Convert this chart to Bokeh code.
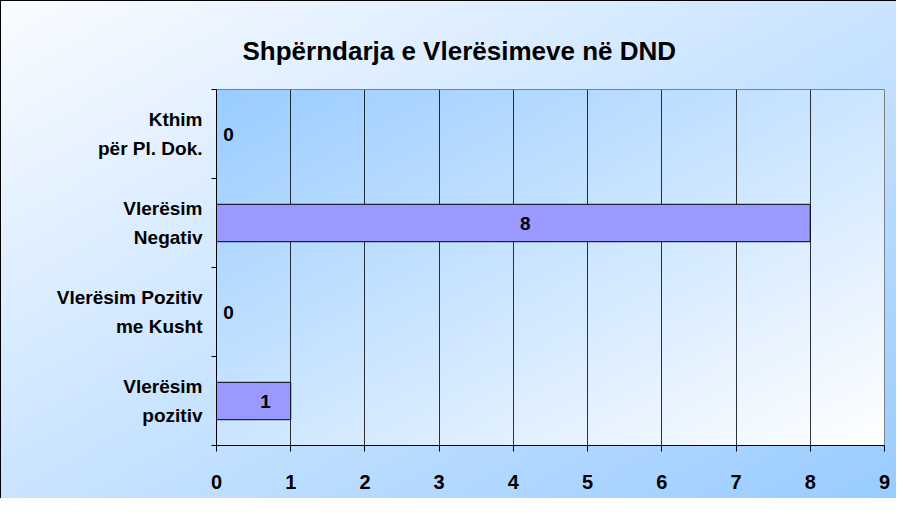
from bokeh.plotting import figure
from bokeh.models import Range1d, FixedTicker, ColumnDataSource, LabelSet
from bokeh.core.properties import value
from bokeh.embed import file_html
from bokeh.resources import INLINE

title_text = "Shpërndarja e Vlerësimeve në DND"
categories = ["Kthim\npër Pl. Dok.", "Vlerësim\nNegativ", "Vlerësim Pozitiv\nme Kusht", "Vlerësim\npozitiv"]
values = [0, 8, 0, 1]
x_ticks = [0, 1, 2, 3, 4, 5, 6, 7, 8, 9]

n = len(categories)
ypos = [n - i - 0.5 for i in range(n)]
bounds = list(range(n + 1))

W, H = 896, 498
FL, FT, FR, FB = 216, 89, 884, 445
FONT = "Liberation Sans"

p = figure(width=W, height=H, output_backend="svg", toolbar_location=None,
           title=title_text,
           x_range=Range1d(x_ticks[0], x_ticks[-1]), y_range=Range1d(0, n),
           min_border_left=FL, min_border_right=W - FR,
           min_border_top=FT, min_border_bottom=H - FB)
p.border_fill_color = None
p.background_fill_color = None
p.outline_line_color = "#808080"
p.outline_line_width = 1
p.styles = {
    "background": (f"linear-gradient(to bottom right, #99CCFF, #FFFFFF) {FL}px {FT}px / {FR-FL}px {FB-FT}px no-repeat, "
                   "linear-gradient(to bottom right, #FAFCFF, #99CCFF)"),
    "box-shadow": "inset 1px 1px 0 0 #000000",
}

# title
p.title.align = "left"
p.title.offset = 26
p.title.standoff = 48
p.title.text_font = FONT
p.title.text_font_style = "bold"
p.title.text_font_size = "26px"
p.title.text_color = "#000000"

src = ColumnDataSource(dict(y=ypos, v=values, xl=[v / 2 for v in values], t=[str(v) for v in values]))
p.hbar(y="y", left=0, right="v", height=0.42, source=src,
       fill_color="#9999FF", line_color="#000000", line_width=1)

p.add_layout(LabelSet(x="xl", y="y", text="t", source=src, x_offset=12,
                      text_align=value("center"), text_baseline=value("middle"),
                      text_font=value(FONT), text_font_style=value("bold"),
                      text_font_size=value("19px"), text_color=value("#000000")))

# grid
p.xgrid.ticker = FixedTicker(ticks=x_ticks)
p.xgrid.grid_line_color = "#000000"
p.xgrid.grid_line_alpha = 0.8
p.ygrid.grid_line_color = None

# x axis
p.xaxis.ticker = FixedTicker(ticks=x_ticks, minor_ticks=[])
p.xaxis.major_tick_out = 6
p.xaxis.major_tick_in = 0
p.xaxis.major_tick_line_color = "#000000"
p.xaxis.axis_line_color = "#000000"
p.xaxis.major_label_standoff = 23
p.xaxis.major_label_text_font = FONT
p.xaxis.major_label_text_font_style = "bold"
p.xaxis.major_label_text_font_size = "20px"
p.xaxis.major_label_text_color = "#000000"

# y axis
p.yaxis.ticker = FixedTicker(ticks=ypos, minor_ticks=bounds)
p.yaxis.major_label_overrides = {y: c for y, c in zip(ypos, categories)}
p.yaxis.major_tick_line_color = None
p.yaxis.major_tick_out = 0
p.yaxis.major_tick_in = 0
p.yaxis.minor_tick_line_color = "#000000"
p.yaxis.minor_tick_out = 5
p.yaxis.minor_tick_in = 0
p.yaxis.axis_line_color = "#000000"
p.yaxis.major_label_standoff = 9
p.yaxis.major_label_text_font = FONT
p.yaxis.major_label_text_font_style = "bold"
p.yaxis.major_label_text_font_size = "19px"
p.yaxis.major_label_text_line_height = 1.35
p.yaxis.major_label_text_color = "#000000"

open("out.html", "w").write(file_html(p, INLINE))
